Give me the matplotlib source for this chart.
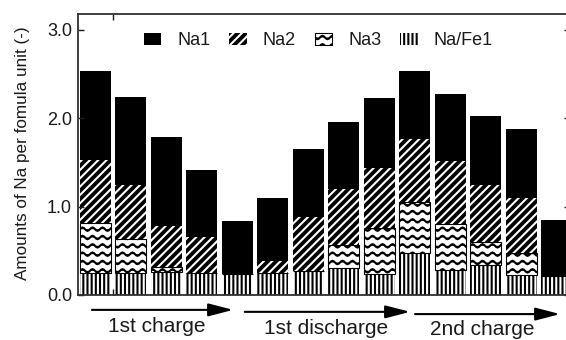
import numpy as np
import matplotlib
matplotlib.use("Agg")
import matplotlib.pyplot as plt
import matplotlib.hatch as mhatch
from matplotlib.path import Path
from matplotlib.transforms import blended_transform_factory


# ---- custom wavy hatch (replaces the small-circle 'o' hatch) ----
class WavyHatch(mhatch.HatchPatternBase):
    periods = 10
    pts_per_period = 8
    amp = 0.017

    def __init__(self, hatch, density):
        self.num_lines = int(hatch.count('o') * density)
        self.npts = self.periods * self.pts_per_period + 1
        self.num_vertices = self.num_lines * self.npts

    def set_vertices_and_codes(self, vertices, codes):
        xs = np.linspace(0.0, 1.0, self.npts)
        wave = self.amp * np.sin(2 * np.pi * self.periods * xs)
        for i in range(self.num_lines):
            y0 = (i + 0.5) / self.num_lines
            sl = slice(i * self.npts, (i + 1) * self.npts)
            vertices[sl, 0] = xs
            vertices[sl, 1] = y0 + wave
            codes[sl] = Path.LINETO
            codes[i * self.npts] = Path.MOVETO


mhatch._hatch_types[:] = [WavyHatch if t is mhatch.SmallCircles else t
                          for t in mhatch._hatch_types]

plt.rcParams['font.family'] = ['Liberation Sans', 'DejaVu Sans']
plt.rcParams['hatch.linewidth'] = 1.5

# ---- data ----
labels = ["Na1", "Na2", "Na3", "Na/Fe1"]
na_fe1 = [0.25, 0.25, 0.26, 0.245, 0.235, 0.245, 0.27, 0.31, 0.24, 0.47, 0.28, 0.34, 0.23, 0.22]
na3 = [0.565, 0.385, 0.06, 0.0, 0.0, 0.0, 0.0, 0.25, 0.515, 0.58, 0.52, 0.26, 0.24, 0.0]
na2 = [0.715, 0.61, 0.46, 0.415, 0.0, 0.145, 0.61, 0.64, 0.685, 0.71, 0.72, 0.64, 0.625, 0.0]
na1 = [1.01, 1.0, 1.01, 0.76, 0.605, 0.71, 0.77, 0.76, 0.79, 0.78, 0.76, 0.78, 0.785, 0.63]
y_ticks = [0.0, 1.0, 2.0, 3.0]
step_labels = ["1st charge", "1st discharge", "2nd charge"]

x = np.arange(len(na1))
b_fe = np.zeros(len(x))
b3 = b_fe + np.array(na_fe1)
b2 = b3 + np.array(na3)
b1 = b2 + np.array(na2)

fig = plt.figure(figsize=(5.66, 3.40), dpi=100)
ax = fig.add_axes([0.1378, 0.1324, 0.8693, 0.8265])

w = 0.874
h_fe = ax.bar(x, na_fe1, w, bottom=b_fe, color='black', edgecolor='white',
              linewidth=0, hatch='||||', label=labels[3])
h3 = ax.bar(x, na3, w, bottom=b3, color='white', edgecolor='black',
            linewidth=0.8, hatch='oo', label=labels[2])
h2 = ax.bar(x, na2, w, bottom=b2, color='black', edgecolor='white',
            linewidth=0, hatch='////', label=labels[1])
h1 = ax.bar(x, na1, w, bottom=b1, color='black', edgecolor='black',
            linewidth=0, label=labels[0])

ax.set_xlim(-0.4935, 13.38)
ax.set_ylim(0, 3.18)
ax.set_yticks(y_ticks)
ax.set_yticklabels([f"{v:.1f}" for v in y_ticks])
ax.set_xticks([0.5])
ax.set_xticklabels([""])
ax.tick_params(axis='both', direction='in', length=4, width=1.0,
               labelsize=13, colors='#1a1a1a', pad=4.3,
               top=True, right=True)
for sp in ax.spines.values():
    sp.set_linewidth(1.3)
    sp.set_color('#303030')

ax.set_ylabel("Amounts of Na per fomula unit (-)", fontsize=12.3, color='#1a1a1a')
ax.yaxis.set_label_coords(-0.097, 0.505)

leg = ax.legend(handles=[h1, h2, h3, h_fe], labels=labels, ncol=4,
                loc='center left', bbox_to_anchor=(0.134, 0.904),
                frameon=False, fontsize=13, handlelength=0.95,
                handleheight=0.67, handletextpad=0.9, columnspacing=1.05,
                borderpad=0, borderaxespad=0)
for t in leg.get_texts():
    t.set_color('#1a1a1a')

trans = blended_transform_factory(ax.transData, ax.transAxes)
arrows = [(-0.10, 3.88, -0.053), (4.21, 8.87, -0.060), (9.01, 13.10, -0.068)]
texts = [(1.73, -0.1306), (6.50, -0.1388), (10.90, -0.1423)]
for (xs, xe, ya), (xt, yt), lab in zip(arrows, texts, step_labels):
    ax.annotate('', xy=(xe, ya), xytext=(xs, ya), xycoords=trans,
                textcoords=trans, annotation_clip=False,
                arrowprops=dict(arrowstyle='-|>,head_length=1.0,head_width=0.26',
                                mutation_scale=15, lw=1.5, color='black',
                                shrinkA=0, shrinkB=0))
    ax.text(xt, yt, lab, transform=trans, ha='center', va='baseline',
            fontsize=15, color='#1a1a1a', clip_on=False)

fig.savefig("out.png", dpi=100)
